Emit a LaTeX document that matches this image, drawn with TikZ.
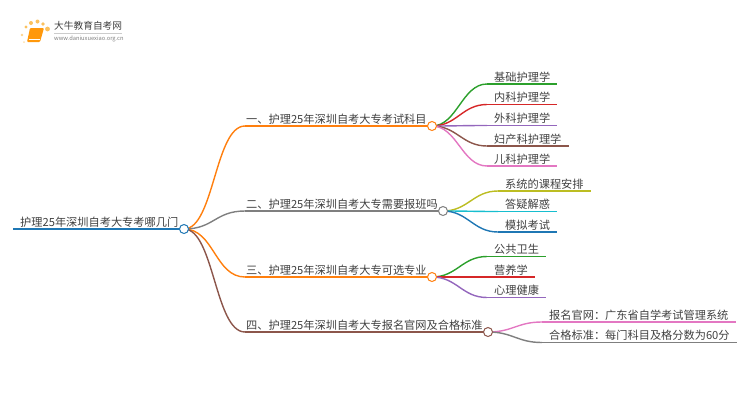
\documentclass[tikz,border=0pt]{standalone}
\usepackage{fontspec}
\setmainfont{Noto Sans CJK SC}
\usetikzlibrary{positioning}
\definecolor{mblue}{HTML}{1F77B4}
\definecolor{morange}{HTML}{FF7F0E}
\definecolor{mgray}{HTML}{7F7F7F}
\definecolor{mbrown}{HTML}{8C564B}
\definecolor{mgreen}{HTML}{2CA02C}
\definecolor{mred}{HTML}{D62728}
\definecolor{mpurple}{HTML}{9467BD}
\definecolor{mpink}{HTML}{E377C2}
\definecolor{molive}{HTML}{BCBD22}
\definecolor{mcyan}{HTML}{17BECF}
\definecolor{mtext}{HTML}{404040}
\definecolor{mgold}{HTML}{FBC15E}
\tikzset{
  topic/.style={anchor=south west,inner xsep=7pt,inner ysep=0pt,text height=11pt,text depth=2.5pt,text=mtext,font=\fontsize{11.2}{13}\selectfont},
  branch/.style={topic,inner xsep=1pt},
  dot/.style={circle,draw=#1,fill=white,line width=1pt,minimum size=9pt,inner sep=0pt},
  edge/.style={line width=1.4pt,out=0,in=180,distance=#1},
  edge/.default=25pt,
  under/.style={line width=1.4pt}
}
\begin{document}
\begin{tikzpicture}[x=1pt,y=-1pt]
\useasboundingbox (0,0) rectangle (750,410);
% logo
\fill[mgold] (26,27) circle (1.6);
\fill[mgold] (31,23) circle (2);
\fill[mgold] (37.5,21.5) circle (2);
\fill[mgold] (43,24) circle (1.8);
\fill[mgold] (47.5,29) circle (2.4);
\fill[mgold!70] (22,35) circle (1.3);
\fill[mgold!50] (24,42) circle (1);
\fill[morange!80!yellow,rounded corners=1pt] (30,28) -- (44,28) -- (40,42) -- (27,42) -- cycle;
\draw[white,line width=.6pt] (29,39.5) -- (40,39.5);
\node[anchor=west,inner sep=0pt,text=mtext,font=\fontsize{9.7}{11}\selectfont] (logotitle) at (54,26) {大牛教育自考网};
\node[anchor=west,inner sep=0pt,text=mgray,font=\fontsize{5.75}{7}\selectfont] (logourl) at (54,38.5) {www.daniuxuexiao.org.cn};
\draw[black!20,line width=.5pt] (54,33) -- (122,33);

% root
\node[topic] (root) at (13,229) {护理25年深圳自考大专考哪几门};
% first level
\node[branch] (one) at (245,126) {一、护理25年深圳自考大专考试科目};
\node[branch] (two) at (245,211) {二、护理25年深圳自考大专需要报班吗};
\node[branch] (three) at (245,277) {三、护理25年深圳自考大专可选专业};
\node[branch] (four) at (245,332) {四、护理25年深圳自考大专报名官网及合格标准};
% second level
\node[topic] (oneA) at (487,84) {基础护理学};
\node[topic] (oneB) at (487,104.5) {内科护理学};
\node[topic] (oneC) at (487,125.5) {外科护理学};
\node[topic] (oneD) at (487,146) {妇产科护理学};
\node[topic] (oneE) at (487,166) {儿科护理学};
\node[topic] (twoA) at (498,191) {系统的课程安排};
\node[topic] (twoB) at (498,211.5) {答疑解惑};
\node[topic] (twoC) at (498,232) {模拟考试};
\node[topic] (threeA) at (487,256.5) {公共卫生};
\node[topic] (threeB) at (487,277) {营养学};
\node[topic] (threeC) at (487,297.5) {心理健康};
\node[topic] (fourA) at (542,322) {报名官网：广东省自学考试管理系统};
\node[topic] (fourB) at (542,342.5) {合格标准：每门科目及格分数为60分};

% dots
\coordinate (rootdot) at (184,229);
\coordinate (onedot) at (432,126);
\coordinate (twodot) at (443,211);
\coordinate (threedot) at (432,277);
\coordinate (fourdot) at (488,332);

% underlines
\draw[under,mblue] (root.south west) -- (rootdot);
\draw[under,morange] (one.south west) -- (onedot);
\draw[under,mgray] (two.south west) -- (twodot);
\draw[under,morange] (three.south west) -- (threedot);
\draw[under,mbrown] (four.south west) -- (fourdot);
\draw[under,mgreen] (oneA.south west) -- (oneA.south east);
\draw[under,mred] (oneB.south west) -- (oneB.south east);
\draw[under,mpurple] (oneC.south west) -- (oneC.south east);
\draw[under,mbrown] (oneD.south west) -- (oneD.south east);
\draw[under,mpink] (oneE.south west) -- (oneE.south east);
\draw[under,molive] (twoA.south west) -- (twoA.south east);
\draw[under,mcyan] (twoB.south west) -- (twoB.south east);
\draw[under,mblue] (twoC.south west) -- (twoC.south east);
\draw[under,mgreen] (threeA.south west) -- (threeA.south east);
\draw[under,mred] (threeB.south west) -- (threeB.south east);
\draw[under,mpurple] (threeC.south west) -- (threeC.south east);
\draw[under,mpink] (fourA.south west) -- (fourA.south east);
\draw[under,mgray] (fourB.south west) -- (fourB.south east);

% links
\draw[edge=30pt,morange] (rootdot) to (one.south west);
\draw[edge=30pt,mgray] (rootdot) to (two.south west);
\draw[edge=30pt,morange] (rootdot) to (three.south west);
\draw[edge=30pt,mbrown] (rootdot) to (four.south west);
\draw[edge,mgreen] (onedot) to (oneA.south west);
\draw[edge,mred] (onedot) to (oneB.south west);
\draw[edge,mpurple] (onedot) to (oneC.south west);
\draw[edge,mbrown] (onedot) to (oneD.south west);
\draw[edge,mpink] (onedot) to (oneE.south west);
\draw[edge,molive] (twodot) to (twoA.south west);
\draw[edge,mcyan] (twodot) to (twoB.south west);
\draw[edge,mblue] (twodot) to (twoC.south west);
\draw[edge,mgreen] (threedot) to (threeA.south west);
\draw[edge,mred] (threedot) to (threeB.south west);
\draw[edge,mpurple] (threedot) to (threeC.south west);
\draw[edge,mpink] (fourdot) to (fourA.south west);
\draw[edge,mgray] (fourdot) to (fourB.south west);

% dots on top
\node[dot=mblue] (rootcirc) at (rootdot) {};
\node[dot=morange] (onecirc) at (onedot) {};
\node[dot=mgray] (twocirc) at (twodot) {};
\node[dot=morange] (threecirc) at (threedot) {};
\node[dot=mbrown] (fourcirc) at (fourdot) {};
\end{tikzpicture}
\end{document}
